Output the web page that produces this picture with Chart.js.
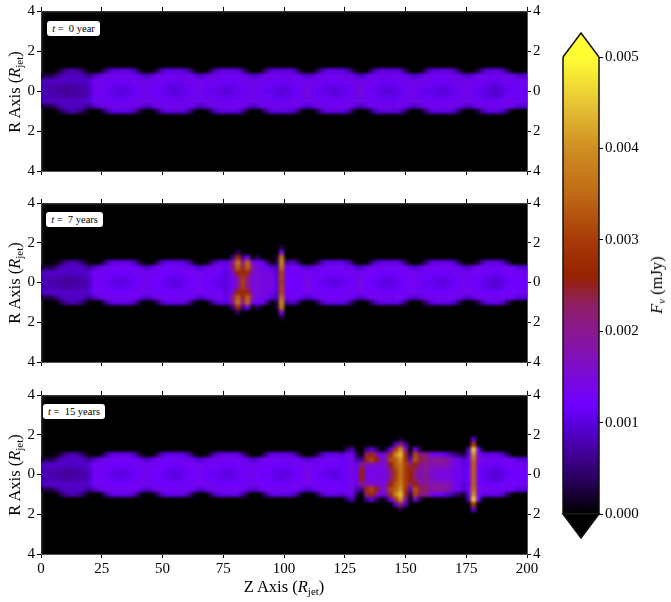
<!DOCTYPE html>
<html>
<head>
<meta charset="utf-8">
<script src="https://cdn.jsdelivr.net/npm/chart.js@4/dist/chart.umd.min.js"></script>
<style>
  body { margin: 0; background: #fff; font-family: "Liberation Serif", serif; }
  #page { position: relative; width: 671px; height: 602px; overflow: hidden; }
  canvas { position: absolute; }
  .title { position: absolute; font-size: 16.5px; white-space: nowrap; color: #000; }
  .title sub { font-size: 11px; vertical-align: -3px; line-height: 0; }
  .rot { transform: translate(-50%, -50%) rotate(-90deg); }
  .time { position: absolute; background: #fff; border-radius: 3px; font-size: 10.5px; line-height: 15px; height: 15px; text-align: center; white-space: pre; }
</style>
</head>
<body>
<div id="page">
  <canvas id="p1" width="560" height="172" style="left:0;top:5px"></canvas>
  <canvas id="p2" width="560" height="171" style="left:0;top:197px"></canvas>
  <canvas id="p3" width="560" height="191" style="left:0;top:389px"></canvas>
  <canvas id="cbar" width="116" height="530" style="left:555px;top:20px"></canvas>
  <div class="time" style="left:47px;top:21px;width:53px"><i>t</i> =  0 year</div>
  <div class="time" style="left:46px;top:212px;width:57px"><i>t</i> =  7 years</div>
  <div class="time" style="left:43px;top:404px;width:62px"><i>t</i> =  15 years</div>
  <div class="title rot" style="left:15px;top:92px">R Axis (<i>R</i><sub>jet</sub>)</div>
  <div class="title rot" style="left:15px;top:283px">R Axis (<i>R</i><sub>jet</sub>)</div>
  <div class="title rot" style="left:15px;top:475px">R Axis (<i>R</i><sub>jet</sub>)</div>
  <div class="title" style="left:284px;top:587px;transform:translate(-50%,-50%)">Z Axis (<i>R</i><sub>jet</sub>)</div>
  <div class="title rot" style="left:657px;top:285px"><i>F<sub>ν</sub></i> (mJy)</div>
</div>
<script>
// flux values are in units of 1e-4 mJy
const rRows = [0, 0.25, 0.5, 0.75, 1, 1.25, 1.5, 1.75];
const zTicks = [0, 25, 50, 75, 100, 125, 150, 175, 200];
const rTicks = [-4, -2, 0, 2, 4];
const cbarTicks = [0, 0.001, 0.002, 0.003, 0.004, 0.005];

// colour bar stops
const cmapValues = [0, 4, 7, 10, 12, 15, 20, 23, 26, 30, 35, 40, 45, 50];
const cmapColors = ['#000000', '#2b0060', '#45009f', '#5a00df', '#7000ff', '#7a0ad8', '#8a1890', '#8f2060',
  '#962200', '#a83a08', '#bf6a15', '#cf8e22', '#e8c535', '#ffff33'];

// quiet jet, z = 0, 2, ... 200
const jetZ = [0,2,4,6,8,10,12,14,16,18,20,22,24,26,28,30,32,34,36,38,40,42,44,46,48,50,52,54,56,58,60,62,64,66,68,70,72,74,76,78,80,82,84,86,88,90,92,94,96,98,100,102,104,106,108,110,112,114,116,118,120,122,124,126,128,130,132,134,136,138,140,142,144,146,148,150,152,154,156,158,160,162,164,166,168,170,172,174,176,178,180,182,184,186,188,190,192,194,196,198,200];
const jetR000 = [8,8,8,7,7,7,7,7,7,8,8, 12,13,12,11,11,10,10,11,11,12,13, 13,12,12,11,11,10,10,11,11,12,13, 13,12,11,11,11,10,10,11,11,12,13, 13,12,11,11,11,10,10,11,11,12,13, 14,12,11,11,11,10,10,11,11,12,13, 14,12,11,11,11,10,10,11,11,12,13, 13,12,11,11,11,10,10,11,11,12,13, 13,12,11,11,10,10,10,10,11,12,12, 12,12];
const jetR025 = [8,8,8,8,8,7,7,8,8,8,9, 12,13,12,12,11,11,11,11,12,12,13, 13,12,12,12,11,11,11,11,12,12,13, 13,12,12,12,11,11,11,11,12,12,13, 13,12,12,12,11,11,11,11,12,12,13, 14,12,12,12,11,11,11,11,12,12,13, 14,12,12,12,11,11,11,11,12,12,13, 13,12,12,12,11,11,11,11,12,12,13, 13,12,12,11,11,10,10,11,12,12,12, 12,12];
const jetR050 = [8,9,9,9,9,9,9,9,9,9,10, 13,13,13,12,12,12,12,12,13,13,13, 13,13,13,12,12,12,12,12,13,13,13, 13,13,13,12,12,12,12,12,13,13,13, 13,13,13,12,12,12,12,12,13,13,13, 13,13,13,12,12,12,12,12,13,13,13, 13,13,13,12,12,12,12,12,13,13,13, 13,13,13,12,12,12,12,12,13,13,13, 13,13,13,12,12,12,12,12,13,13,13, 13,13];
const jetR075 = [3,3,3,5,8,9,9,9,9,8,6, 9,11,13,13,13,13,13,13,13,12,10, 9,11,13,13,13,13,13,13,13,12,10, 9,11,13,13,13,13,13,13,13,12,10, 9,11,13,13,13,13,13,13,13,12,10, 9,11,13,13,13,13,13,13,13,12,10, 9,11,13,13,13,13,13,13,13,12,10, 9,11,13,13,13,13,13,13,13,12,10, 9,11,13,13,13,13,13,13,13,12,10, 10,10];
const jetR100 = [0,0,0,0,3,6,8,8,6,3,0, 0,0,4,9,11,11,11,11,9,4,0, 0,0,4,9,11,11,11,11,9,4,0, 0,0,4,9,11,11,11,11,9,4,0, 0,0,4,9,11,11,11,11,9,4,0, 0,0,4,9,11,11,11,11,9,4,0, 0,0,4,9,11,11,11,11,9,4,0, 0,0,4,9,11,11,11,11,9,4,0, 0,0,3,8,11,11,11,9,4,0,0, 0,0];

// t = 7 years disturbed region
const knotZ7 = [75,77,79,81,83,85,87,89,91,93,95,97,99,101,103];
const knotR000_7 = [9,11,13,18,31,20,15,15,14,14,14,10,30,12,12];
const knotR025_7 = [9,11,13,18,30,20,15,15,14,14,14,10,31,12,12];
const knotR050_7 = [9,11,16,27,27,27,15,15,14,14,13,9,31,12,13];
const knotR075_7 = [10,12,22,34,24,34,20,14,14,13,10,8,35,12,13];
const knotR100_7 = [9,11,20,37,20,35,14,12,13,6,0,3,39,6,9];
const knotR125_7 = [0,0,6,28,6,13,0,4,0,0,0,2,37,0,0];
const knotR150_7 = [0,0,0,4,0,0,0,0,0,0,0,0,15,0,0];
const knotR175_7 = [0,0,0,0,0,0,0,0,0,0,0,0,3,0,0];

// t = 15 years disturbed region
const knotZ15 = [124,126,128,130,132,134,136,138,140,142,144,146,148,150,152,154,156,158,160,162,164,166,168,170,172,174,176,178,180,182];
const knotR000_15 = [11,12,14,12,26,13,14,14,14,14,20,30,36,30,26,20,16,21,16,15,14,14,14,13,13,11,12,34,12,11];
const knotR025_15 = [11,12,14,12,26,14,14,14,14,15,22,31,36,30,26,22,17,20,17,16,15,15,15,13,13,11,12,34,12,11];
const knotR050_15 = [11,12,14,11,20,16,17,15,15,16,26,33,37,30,22,26,19,20,18,18,18,18,17,14,13,10,11,34,13,12];
const knotR075_15 = [12,13,14,8,6,27,31,26,16,18,32,34,40,28,9,33,24,23,19,19,20,20,17,14,12,9,12,36,15,13];
const knotR100_15 = [9,12,13,3,0,22,27,18,12,16,28,39,44,25,4,31,21,20,15,12,13,11,9,6,4,2,10,40,14,11];
const knotR125_15 = [0,4,8,0,0,6,10,5,0,3,12,30,40,18,0,14,3,0,0,0,0,0,0,0,0,0,8,46,12,0];
const knotR150_15 = [0,0,0,0,0,0,0,0,0,0,0,10,22,8,0,0,0,0,0,0,0,0,0,0,0,0,0,30,0,0];
const knotR175_15 = [0,0,0,0,0,0,0,0,0,0,0,0,3,0,0,0,0,0,0,0,0,0,0,0,0,0,0,10,0,0];

const jetRows = [jetR000, jetR025, jetR050, jetR075, jetR100];
const knotRows7 = [knotR000_7, knotR025_7, knotR050_7, knotR075_7, knotR100_7, knotR125_7, knotR150_7, knotR175_7];
const knotRows15 = [knotR000_15, knotR025_15, knotR050_15, knotR075_15, knotR100_15, knotR125_15, knotR150_15, knotR175_15];

const black = '#000';
const spine = '#555';
const tickFont = { family: '"Liberation Serif", serif', size: 15 };

function hexRgb(h) {
  return [1, 3, 5].map(i => parseInt(h.substr(i, 2), 16));
}

function fluxColor(v) {
  let i = 0;
  while (i < cmapValues.length - 2 && v > cmapValues[i + 1]) i++;
  const f = Math.min(1, (v - cmapValues[i]) / (cmapValues[i + 1] - cmapValues[i]));
  const a = hexRgb(cmapColors[i]), b = hexRgb(cmapColors[i + 1]);
  return `rgb(${a.map((c, k) => Math.round(c + (b[k] - c) * f)).join(',')})`;
}

function buildCells(knotZ, knotRows) {
  const cells = [];
  const addRows = (zs, rows, skip) => {
    rows.forEach((row, j) => {
      row.forEach((v, i) => {
        if (!v || skip(zs[i])) return;
        cells.push({ x: zs[i], y: rRows[j], v });
        if (j > 0) cells.push({ x: zs[i], y: -rRows[j], v });
      });
    });
  };
  const lo = knotZ.length ? knotZ[0] : 1, hi = knotZ.length ? knotZ[knotZ.length - 1] : 0;
  addRows(jetZ, jetRows, z => z >= lo && z <= hi);
  addRows(knotZ, knotRows, () => false);
  return cells.sort((a, b) => a.v - b.v);
}

const heatPlugin = {
  id: 'heat',
  beforeDraw(chart) {
    const a = chart.chartArea;
    chart.ctx.fillStyle = black;
    chart.ctx.fillRect(a.left, a.top, a.right - a.left, a.bottom - a.top);
  },
  // soften the drawn cells, the reference is shaded smoothly
  afterDatasetsDraw(chart) {
    const { ctx, canvas, chartArea: a } = chart;
    const w = a.right - a.left, h = a.bottom - a.top;
    ctx.save();
    ctx.beginPath();
    ctx.rect(a.left, a.top, w, h);
    ctx.clip();
    ctx.filter = 'blur(1.7px)';
    ctx.drawImage(canvas, a.left, a.top, w, h, a.left, a.top, w, h);
    ctx.restore();
  }
};

function fixedHeight(h) {
  return scale => {
    scale.height = h;
    scale.paddingLeft = scale.paddingRight = 0;
  };
}

function fixedWidth(w) {
  return scale => {
    scale.width = w;
    scale.paddingTop = scale.paddingBottom = 0;
  };
}

function makePanel(id, knotZ, knotRows, showZ) {
  const cells = buildCells(knotZ, knotRows);
  const xAxis = (position, labels, height) => ({
    type: 'linear', position, min: 0, max: 200,
    afterBuildTicks: scale => { scale.ticks = zTicks.map(value => ({ value })); },
    afterFit: fixedHeight(height),
    grid: { drawOnChartArea: false, tickLength: 4, color: black },
    border: { color: spine },
    ticks: { display: labels, autoSkip: false, maxRotation: 0, color: black, font: tickFont, padding: 2 }
  });
  const yAxis = (position, width) => ({
    type: 'linear', position, min: -4, max: 4,
    afterBuildTicks: scale => { scale.ticks = rTicks.map(value => ({ value })); },
    afterFit: fixedWidth(width),
    grid: { drawOnChartArea: false, tickLength: 4, color: black },
    border: { color: spine },
    ticks: { color: black, font: tickFont, padding: 2, callback: v => Math.abs(v) }
  });
  return new Chart(document.getElementById(id), {
    type: 'scatter',
    data: {
      datasets: [{
        data: cells,
        pointStyle: 'rect',
        pointRadius: 3.7,
        pointBorderWidth: 0,
        pointBackgroundColor: cells.map(c => fluxColor(c.v))
      }]
    },
    options: {
      responsive: false,
      animation: false,
      events: [],
      layout: { padding: 0 },
      plugins: { legend: { display: false }, tooltip: { enabled: false } },
      scales: {
        x: xAxis('bottom', showZ, showZ ? 26 : 6),
        xTop: xAxis('top', false, 6),
        y: yAxis('left', 41),
        yRight: yAxis('right', 33)
      }
    },
    plugins: [heatPlugin]
  });
}

makePanel('p1', [], [], false);
makePanel('p2', knotZ7, knotRows7, false);
makePanel('p3', knotZ15, knotRows15, true);

// end triangles of the colour bar
const capsPlugin = {
  id: 'caps',
  afterDraw(chart) {
    const { ctx, chartArea: a } = chart;
    const mid = (a.left + a.right) / 2;
    ctx.save();
    ctx.lineWidth = 1.5;
    ctx.strokeStyle = '#111';
    ctx.beginPath();
    ctx.moveTo(a.left, a.top);
    ctx.lineTo(mid, a.top - 24);
    ctx.lineTo(a.right, a.top);
    ctx.closePath();
    ctx.fillStyle = cmapColors[cmapColors.length - 1];
    ctx.fill();
    ctx.beginPath();
    ctx.moveTo(a.left, a.top);
    ctx.lineTo(mid, a.top - 24);
    ctx.lineTo(a.right, a.top);
    ctx.stroke();
    ctx.beginPath();
    ctx.moveTo(a.left, a.bottom);
    ctx.lineTo(mid, a.bottom + 24);
    ctx.lineTo(a.right, a.bottom);
    ctx.closePath();
    ctx.fillStyle = black;
    ctx.fill();
    ctx.stroke();
    ctx.beginPath();
    ctx.moveTo(a.left, a.top);
    ctx.lineTo(a.left, a.bottom);
    ctx.moveTo(a.right, a.top);
    ctx.lineTo(a.right, a.bottom);
    ctx.stroke();
    ctx.restore();
  }
};

new Chart(document.getElementById('cbar'), {
  type: 'bar',
  data: {
    labels: ['flux'],
    datasets: [{
      data: [[0, 0.005]],
      barPercentage: 1,
      categoryPercentage: 1,
      borderWidth: 0,
      backgroundColor(c) {
        const a = c.chart.chartArea;
        if (!a) return black;
        const g = c.chart.ctx.createLinearGradient(0, a.bottom, 0, a.top);
        cmapValues.forEach((v, i) => g.addColorStop(v / 50, cmapColors[i]));
        return g;
      }
    }]
  },
  options: {
    responsive: false,
    animation: false,
    events: [],
    layout: { padding: { left: 8, top: 37, bottom: 36 } },
    plugins: { legend: { display: false }, tooltip: { enabled: false } },
    scales: {
      x: { display: false },
      y: {
        position: 'right', min: 0, max: 0.005,
        afterBuildTicks: scale => { scale.ticks = cbarTicks.map(value => ({ value })); },
        afterFit: fixedWidth(72),
        grid: { drawOnChartArea: false, tickLength: 4, color: black },
        border: { display: false },
        ticks: { color: black, font: tickFont, padding: 2, callback: v => v.toFixed(3) }
      }
    }
  },
  plugins: [capsPlugin]
});
</script>
</body>
</html>
